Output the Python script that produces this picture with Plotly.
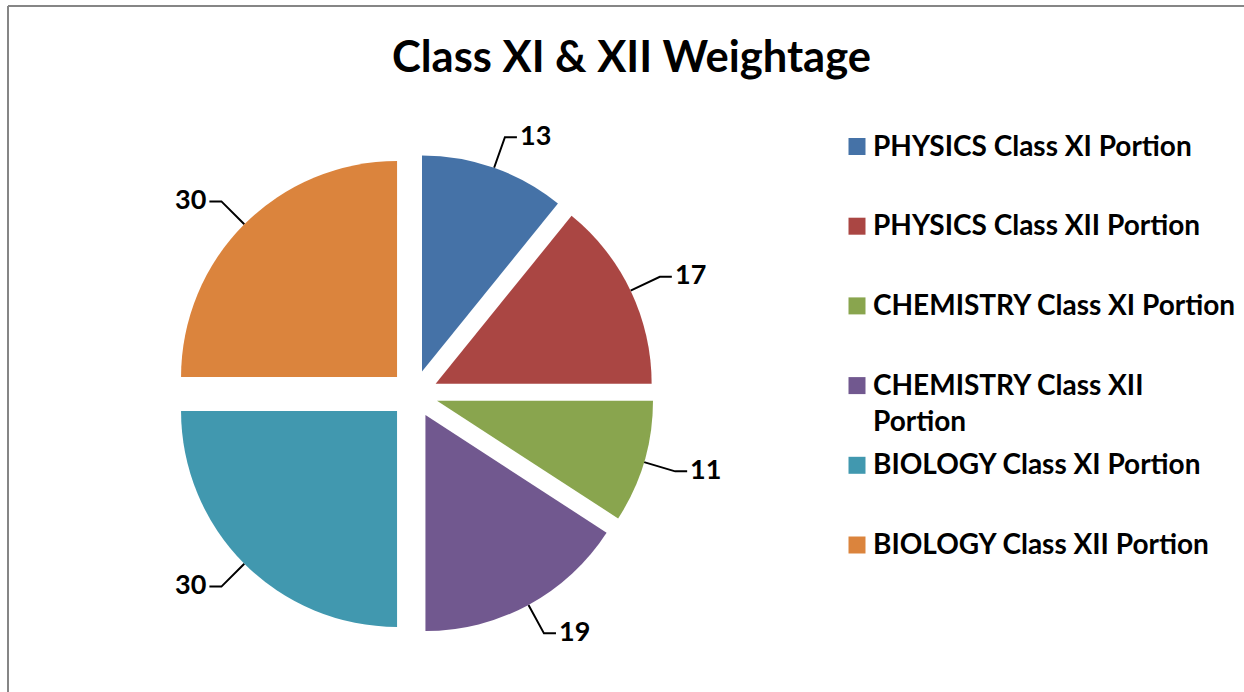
import math
import plotly.graph_objects as go

W, H = 1244, 692

# ---- data ----
categories = [
    "PHYSICS Class XI Portion",
    "PHYSICS Class XII Portion",
    "CHEMISTRY Class XI Portion",
    "CHEMISTRY Class XII Portion",
    "BIOLOGY Class XI Portion",
    "BIOLOGY Class XII Portion",
]
legend_labels = [
    "PHYSICS Class XI Portion",
    "PHYSICS Class XII Portion",
    "CHEMISTRY Class XI Portion",
    "CHEMISTRY Class XII<br>Portion",
    "BIOLOGY Class XI Portion",
    "BIOLOGY Class XII Portion",
]
values = [13, 17, 11, 19, 30, 30]
colors = ["#4572A7", "#AA4643", "#89A54E", "#71588F", "#4198AF", "#DB843D"]
title_text = "Class XI & XII Weightage"

# ---- layout constants (screen pixels) ----
CX, CY = 414, 394
R = 216
PULL = 0.111
HALF = R * (1 + PULL)
FONT = "Lato"


def px_x(p):
    return p / W


def px_y(p):
    return 1 - p / H


fig = go.Figure()

fig.add_trace(go.Pie(
    labels=categories, values=values,
    marker=dict(colors=colors, line=dict(width=0)),
    sort=False, direction="clockwise", rotation=0, pull=PULL,
    textinfo="none", hoverinfo="label+value",
    domain=dict(x=[px_x(CX - HALF), px_x(CX + HALF)],
                y=[px_y(CY + HALF), px_y(CY - HALF)]),
    showlegend=False,
))

# leader lines + value labels computed from the slice angles
total = sum(values)
cum = 0
annotations = []
for v in values:
    mid = (cum + v / 2) / total * 2 * math.pi
    cum += v
    s, co = math.sin(mid), -math.cos(mid)
    ox, oy = CX + PULL * R * s, CY + PULL * R * co
    ax, ay = ox + R * s, oy + R * co
    ex, ey = ox + 1.15 * R * s, oy + 1.15 * R * co
    side = 1 if s >= 0 else -1
    tx = ex + side * 12
    fig.add_trace(go.Scatter(
        x=[ax, ex, tx], y=[ay, ey, ey], mode="lines",
        line=dict(color="black", width=2), hoverinfo="skip", showlegend=False,
    ))
    annotations.append(dict(
        x=tx + side * 1, y=ey - 3, xref="x", yref="y", text=str(v), showarrow=False,
        xanchor="left" if side > 0 else "right", yanchor="middle",
        font=dict(family=FONT, size=27, color="black", weight="bold"),
    ))

# custom legend (squares + text)
LEG_X = 857
LEG_Y0 = 146.5
LEG_DY = 79.7
leg_y = [LEG_Y0 + i * LEG_DY for i in range(len(categories))]
fig.add_trace(go.Scatter(
    x=[LEG_X] * len(categories), y=leg_y, mode="markers",
    marker=dict(symbol="square", size=17, color=colors, line=dict(width=0)),
    hoverinfo="skip", showlegend=False,
))
for lab, y in zip(legend_labels, leg_y):
    annotations.append(dict(
        x=871, y=y - 21, xref="x", yref="y", text=lab, showarrow=False,
        xanchor="left", yanchor="top", align="left",
        font=dict(family=FONT, size=28, color="black", weight="bold"),
    ))

fig.update_layout(
    width=W, height=H,
    margin=dict(l=0, r=0, t=0, b=0),
    paper_bgcolor="white", plot_bgcolor="white",
    xaxis=dict(range=[0, W], visible=False, fixedrange=True, domain=[0, 1]),
    yaxis=dict(range=[H, 0], visible=False, fixedrange=True, domain=[0, 1]),
    title=dict(text=title_text, x=px_x(631.5), xanchor="center", y=px_y(57), yanchor="middle",
               font=dict(family=FONT, size=43.5, color="black", weight="bold")),
    annotations=annotations,
    shapes=[
        dict(type="line", xref="x", yref="y", x0=8, y0=H, x1=8, y1=6,
             line=dict(color="#868686", width=2)),
        dict(type="line", xref="x", yref="y", x0=8, y0=6, x1=W, y1=6,
             line=dict(color="#868686", width=2)),
    ],
)

fig.write_html(
    "out.html",
    config={"displayModeBar": False},
    post_script="document.body.style.margin='0px';document.body.style.overflow='hidden';",
)
